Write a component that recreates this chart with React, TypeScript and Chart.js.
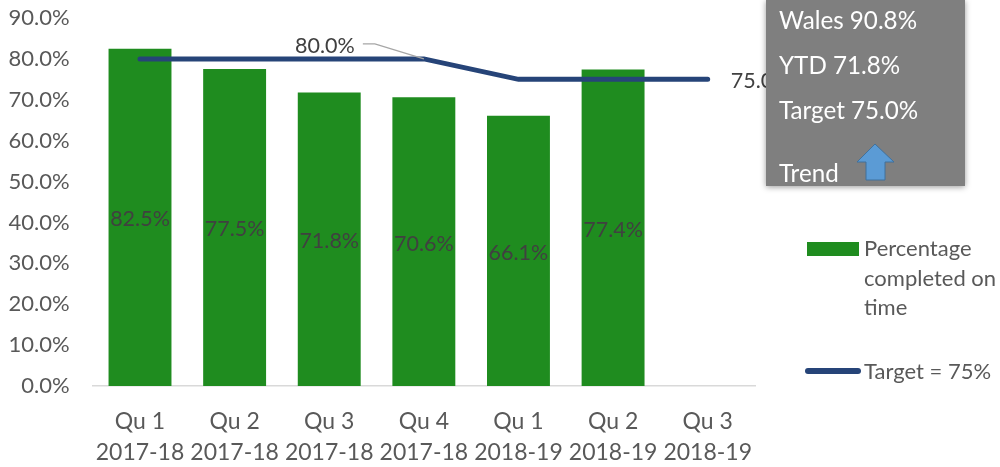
import React, { useEffect, useRef } from "react";
import { Chart, registerables } from "chart.js";

Chart.register(...registerables);

const quarters = ["Qu 1", "Qu 2", "Qu 3", "Qu 4", "Qu 1", "Qu 2", "Qu 3"];
const years = ["2017-18", "2017-18", "2017-18", "2017-18", "2018-19", "2018-19", "2018-19"];
const completed = [82.5, 77.5, 71.8, 70.6, 66.1, 77.4, null];
const target = [80, 80, 80, 80, 75, 75, 75];
const FONT = "Lato, Carlito, sans-serif";

const labelsPlugin = {
  id: "valueLabels",
  afterDatasetsDraw(chart: any) {
    const { ctx, scales } = chart;
    const bars = chart.getDatasetMeta(1).data;
    ctx.save();
    ctx.font = `21.5px ${FONT}`;
    ctx.fillStyle = "#404040";
    ctx.textAlign = "center";
    ctx.textBaseline = "middle";
    bars.forEach((bar: any, i: number) => {
      const v = completed[i];
      if (v == null) return;
      ctx.fillText(v.toFixed(1) + "%", bar.x, (scales.y.getPixelForValue(v) + scales.y.getPixelForValue(0)) / 2 + 2);
    });
    const x3 = scales.x.getPixelForValue(3);
    const y80 = scales.y.getPixelForValue(target[3]);
    ctx.fillText(target[3].toFixed(1) + "%", x3 - 99, y80 - 13);
    ctx.strokeStyle = "#a6a6a6";
    ctx.lineWidth = 1.3;
    ctx.beginPath();
    ctx.moveTo(x3 - 61, y80 - 15);
    ctx.lineTo(x3 - 49, y80 - 15);
    ctx.lineTo(x3, y80);
    ctx.stroke();
    const x6 = scales.x.getPixelForValue(6);
    const y75 = scales.y.getPixelForValue(target[6]);
    ctx.textAlign = "left";
    ctx.fillText(target[6].toFixed(1) + "%", x6 + 23, y75 + 2);
    ctx.restore();
  },
};

const textBase: React.CSSProperties = { position: "absolute", fontFamily: FONT, whiteSpace: "nowrap" };

export default function App() {
  const ref = useRef<HTMLCanvasElement>(null);
  useEffect(() => {
    const chart = new Chart(ref.current as HTMLCanvasElement, {
      type: "bar",
      data: {
        labels: quarters.map((q, i) => [q, years[i]]),
        datasets: [
          {
            type: "line",
            label: "Target = 75%",
            data: target,
            borderColor: "#264478",
            borderWidth: 5,
            borderCapStyle: "round",
            pointRadius: 0,
            tension: 0,
            order: 0,
          },
          {
            type: "bar",
            label: "Percentage completed on time",
            data: completed,
            backgroundColor: "#1f8c1f",
            categoryPercentage: 1,
            barPercentage: 0.665,
            order: 1,
          },
        ],
      } as any,
      options: {
        animation: false,
        responsive: false,
        layout: { padding: { left: 0, top: 18, right: 245, bottom: 0 } },
        plugins: { legend: { display: false }, tooltip: { enabled: false } },
        scales: {
          x: {
            afterFit: (s: any) => { s.height = 81; s.paddingLeft = 0; s.paddingRight = 0; },
            grid: { display: false },
            border: { display: true, color: "#d9d9d9", width: 1.5 },
            ticks: { color: "#595959", font: { family: FONT, size: 23, lineHeight: 1.36 }, maxRotation: 0, autoSkip: false, padding: 12 },
          },
          y: {
            min: 0,
            max: 90,
            afterFit: (s: any) => { s.width = 92.7; s.paddingTop = 0; s.paddingBottom = 0; },
            grid: { display: false },
            border: { display: false },
            ticks: {
              stepSize: 10,
              color: "#595959",
              font: { family: FONT, size: 22 },
              padding: 15,
              callback: (v: any) => Number(v).toFixed(1) + "%",
            },
          },
        },
      },
      plugins: [labelsPlugin],
    } as any);
    return () => chart.destroy();
  }, []);
  return (
    <div style={{ position: "fixed", left: 0, top: 0, width: 1000, height: 467, background: "#fff", overflow: "hidden" }}>
      <canvas ref={ref} width={1000} height={467} style={{ position: "absolute", left: 0, top: 0 }} />
      <div style={{ position: "absolute", left: 766, top: 0, width: 199, height: 186, background: "#7f7f7f", boxShadow: "0 1px 6px rgba(0,0,0,0.4)" }} />
      <div style={{ ...textBase, left: 779, top: 5, fontSize: 24.2, color: "#fff" }}>Wales 90.8%</div>
      <div style={{ ...textBase, left: 779, top: 50, fontSize: 24.2, color: "#fff" }}>YTD 71.8%</div>
      <div style={{ ...textBase, left: 779, top: 95, fontSize: 24.2, color: "#fff" }}>Target 75.0%</div>
      <div style={{ ...textBase, left: 779, top: 158, fontSize: 24.2, color: "#fff" }}>Trend</div>
      <svg style={{ position: "absolute", left: 855, top: 142 }} width="42" height="42">
        <path d="M2 20 L20 2 L39 20 L30 20 L30 38 L11 38 L11 20 Z" fill="#5b9bd5" stroke="#41719c" strokeWidth="1" />
      </svg>
      <div style={{ position: "absolute", left: 807, top: 242, width: 52, height: 14, background: "#1f8c1f" }} />
      <div style={{ ...textBase, left: 864, top: 233, fontSize: 22, lineHeight: "29.5px", color: "#595959" }}>
        Percentage<br />completed on<br />time
      </div>
      <div style={{ position: "absolute", left: 805, top: 368, width: 56, height: 6, borderRadius: 3, background: "#264478" }} />
      <div style={{ ...textBase, left: 864, top: 356, fontSize: 22, lineHeight: "29.5px", color: "#595959" }}>Target = 75%</div>
    </div>
  );
}
